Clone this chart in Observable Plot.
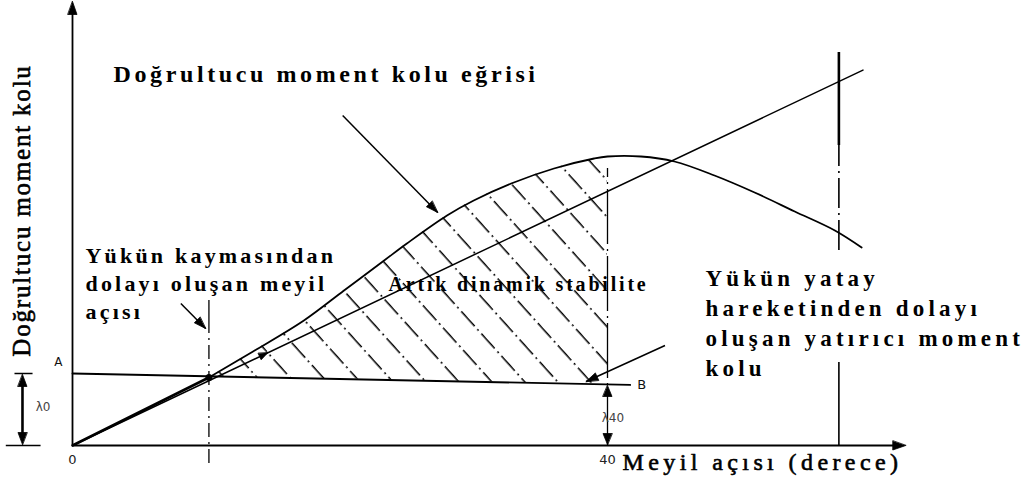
<!DOCTYPE html>
<html>
<head>
<meta charset="utf-8">
<script src="https://cdn.jsdelivr.net/npm/d3@7"></script>
<script src="https://cdn.jsdelivr.net/npm/@observablehq/plot@0.6"></script>
<style>
  body { margin: 0; background: #fff; }
  #chart svg { display: block; background: #fff; }
  .t-title text { letter-spacing: 3.6px; }
  .t-note text { letter-spacing: 3.2px; }
  .t-heel text { letter-spacing: 4.2px; }
  .t-area text { letter-spacing: 2.8px; }
  .t-axis text { letter-spacing: 4.4px; }
  .t-yaxis text { letter-spacing: 1.8px; }
</style>
</head>
<body>
<div id="chart"></div>
<script>
// Righting lever curve: heel angle (degrees) and lever GZ (m)
const gzAngle = [0, 10.2, 13.5, 17.3, 20.3, 23.3, 25, 28, 30, 33, 36, 39, 40, 42.5, 45, 48, 51, 54, 57, 59];
const gzValue = [0, 0.34, 0.47, 0.625, 0.775, 0.925, 1.01, 1.15, 1.225, 1.315, 1.385, 1.435, 1.445, 1.445, 1.42, 1.35, 1.265, 1.17, 1.075, 0.99];

// Grain-shift heeling arm: λ0 at upright, λ40 at 40°
const lambda0 = 0.36;
const lambda40 = 0.305;
const shiftAngle = 10.2;    // heel produced by the cargo shift
const limitAngle = 40;      // residual stability is measured up to 40°
const gmAngle = 57.3;       // one radian
const gmValue = 1.82;       // initial GM, read on the 57.3° ordinate

// Drawn extents of the construction lines
const tangentEnd = 59.1;
const heelLineEnd = 41.7;
const xAxisEnd = 62.3;
const yAxisEnd = 2.22;

// Axis ticks
const tickValues = [0, 40];
const tickLabels = ["0", "40"];

// Texts
const axisLabelX = "Meyil açısı (derece)";
const axisLabelY = "Doğrultucu moment kolu";
const noteCurve = "Doğrultucu moment kolu eğrisi";
const noteShift = "Yükün kaymasından\ndolayı oluşan meyil\naçısı";
const noteArea = "Artık dinamik stabilite";
const noteHeel = "Yükün yatay\nhareketinden dolayı\noluşan yatırıcı moment\nkolu";

// Leader arrows (tail -> tip), in degrees / metres
const leaderTail = [[20.2, 1.65], [8.1, 0.71], [44.3, 0.5]];
const leaderTip  = [[27.3, 1.165], [9.95, 0.585], [38.4, 0.32]];

// ---------------------------------------------------------------
const XR = [72, 607];               // pixel range for 0..40°
const YR = [445, 45];               // pixel range for 0..2 m
const pxPerDeg = (XR[1] - XR[0]) / 40;
const pxPerUnit = (YR[0] - YR[1]) / 2;

const heelArm = a => lambda0 + (lambda40 - lambda0) * a / limitAngle;
const gz = gzAngle.map((a, i) => ({a, v: gzValue[i]}));
const straight = gz.filter(d => d.a <= shiftAngle);
const bent = gz.filter(d => d.a >= shiftAngle);
const shaded = gz.filter(d => d.a >= shiftAngle && d.a <= limitAngle)
  .map(d => ({a: d.a, lo: heelArm(d.a), hi: d.v}));
const tangent = [{a: 0, v: 0}, {a: tangentEnd, v: gmValue * tangentEnd / gmAngle}];
const heelLine = [{a: 0, v: lambda0}, {a: heelLineEnd, v: heelArm(heelLineEnd)}];

// screen heading (deg, clockwise from "up") of a segment given in data units
function heading(x1, y1, x2, y2) {
  const dx = (x2 - x1) * pxPerDeg, dy = -(y2 - y1) * pxPerUnit;
  return Math.atan2(dy, dx) * 180 / Math.PI + 90;
}

// filled arrow head: tip at (x, y), length and half-width in pixels
function headPolygon(id, x, y, angle, len = 12, half = 4) {
  const t = angle * Math.PI / 180;
  const ux = Math.sin(t), uy = -Math.cos(t);
  const nx = -uy, ny = ux;
  const pts = [[0, 0], [-ux * len + nx * half, -uy * len + ny * half], [-ux * len - nx * half, -uy * len - ny * half]];
  return pts.map(([dx, dy]) => ({id, x: x + dx / pxPerDeg, y: y - dy / pxPerUnit}));
}

const leaders = leaderTail.map((t, i) => ({x1: t[0], y1: t[1], x2: leaderTip[i][0], y2: leaderTip[i][1]}));
const heads = [];
leaders.forEach((d, i) => heads.push(...headPolygon("l" + i, d.x2, d.y2, heading(d.x1, d.y1, d.x2, d.y2), 12, 4)));
// small head riding on the tangent line
const tanA = 14.6;
heads.push(...headPolygon("t", tanA, gmValue * tanA / gmAngle, heading(0, 0, gmAngle, gmValue), 9, 3.5));
// axis arrow heads
heads.push(...headPolygon("ay", 0, yAxisEnd, 0, 13, 4.5));
heads.push(...headPolygon("ax", xAxisEnd, 0, 90, 13, 4.5));
// λ40 dimension heads
heads.push(...headPolygon("l40a", limitAngle, lambda40 - 0.005, 0, 11, 4.5));
heads.push(...headPolygon("l40b", limitAngle, 0.005, 180, 11, 4.5));
// λ0 dimension heads, left of the ordinate axis
const dimX = -3.74;
heads.push(...headPolygon("l0a", dimX, lambda0 - 0.005, 0, 12, 4.5));
heads.push(...headPolygon("l0b", dimX, 0.005, 180, 12, 4.5));

const serif = "Liberation Serif";
const sans = "DejaVu Sans";

const chart = Plot.plot({
  width: 1029,
  height: 484,
  x: {domain: [0, 40], range: XR, axis: null},
  y: {domain: [0, 2], range: YR, axis: null},
  marks: [
    // residual dynamic stability (hatched)
    Plot.areaY(shaded, {x: "a", y1: "lo", y2: "hi", fill: "url(#hatch)", curve: "catmull-rom"}),

    // axes
    Plot.ruleX([0], {y1: 0, y2: yAxisEnd - 0.03, stroke: "black", strokeWidth: 1.8}),
    Plot.ruleY([0], {x1: 0, x2: xAxisEnd - 0.5, stroke: "black", strokeWidth: 1.8}),

    // angle ordinates
    Plot.ruleX([shiftAngle], {y1: 0.56, y2: 0.725, stroke: "black", strokeWidth: 1.3}),
    Plot.ruleX([shiftAngle], {y1: -0.09, y2: 0.56, stroke: "black", strokeWidth: 1.3, strokeDasharray: "14 5 2 5"}),
    Plot.ruleX([limitAngle], {y1: 0, y2: 1.385, stroke: "black", strokeWidth: 1.3, strokeDasharray: "55 5 2 5"}),
    Plot.ruleX([gmAngle], {y1: 1.5, y2: 1.965, stroke: "black", strokeWidth: 2.6}),
    Plot.ruleX([gmAngle], {y1: 0.975, y2: 1.5, stroke: "black", strokeWidth: 1.6, strokeDasharray: "30 5 2 5"}),
    Plot.ruleX([gmAngle], {y1: 0, y2: 0.415, stroke: "black", strokeWidth: 1.6}),

    // heeling arm A–B
    Plot.line(heelLine, {x: "a", y: "v", stroke: "black", strokeWidth: 1.8}),

    // initial GM tangent
    Plot.line(tangent, {x: "a", y: "v", stroke: "black", strokeWidth: 1.5}),

    // righting lever curve
    Plot.line(straight, {x: "a", y: "v", stroke: "black", strokeWidth: 2.6}),
    Plot.line(bent, {x: "a", y: "v", stroke: "black", strokeWidth: 1.8, curve: "catmull-rom"}),
    Plot.dot([{a: shiftAngle, v: gzValue[1]}], {x: "a", y: "v", r: 3.5, fill: "black"}),

    // λ0 dimension
    Plot.ruleX([dimX], {y1: 0.03, y2: lambda0 - 0.03, stroke: "black", strokeWidth: 2.6}),
    Plot.ruleY([lambda0], {x1: -4.3, x2: -2.95, stroke: "black", strokeWidth: 1.5}),
    Plot.ruleY([0], {x1: -4.95, x2: -2.35, stroke: "black", strokeWidth: 1.5}),

    // leader lines and arrow heads
    Plot.link(leaders, {x1: "x1", y1: "y1", x2: "x2", y2: "y2", stroke: "black", strokeWidth: 1.5}),
    Plot.line(heads, {x: "x", y: "y", z: "id", fill: "black", stroke: "black", strokeWidth: 0.8, curve: "linear-closed"}),

    // tick labels and point letters
    Plot.text(tickValues, {x: d => d, y: -0.07, text: (d, i) => tickLabels[i], fontFamily: sans, fontSize: 13, fill: "#222"}),
    Plot.text(["A"], {x: -1.05, y: 0.415, fontFamily: sans, fontSize: 12, fill: "#111"}),
    Plot.text(["B"], {x: 42.55, y: 0.305, fontFamily: sans, fontSize: 13, fill: "#111"}),
    Plot.text(["λ0"], {x: -2.2, y: 0.19, fontFamily: sans, fontSize: 12, fill: "#444"}),
    Plot.text(["λ40"], {x: 40.4, y: 0.135, fontFamily: sans, fontSize: 12, fill: "#444"}),

    // notes
    Plot.text([noteCurve], {x: 3.07, y: 1.855, textAnchor: "start", fontFamily: serif, fontWeight: "bold", fontSize: 24, fill: "black", className: "t-title"}),
    Plot.text([noteShift], {x: 0.97, y: 1.013, textAnchor: "start", lineAnchor: "top", lineHeight: 1.27, fontFamily: serif, fontWeight: "bold", fontSize: 22, fill: "black", className: "t-note"}),
    Plot.text([noteArea], {x: 23.63, y: 0.846, textAnchor: "start", lineAnchor: "top", fontFamily: serif, fontWeight: "bold", fontSize: 20, fill: "black", className: "t-area"}),
    Plot.text([noteHeel], {x: 47.33, y: 0.903, textAnchor: "start", lineAnchor: "top", lineHeight: 1.3, fontFamily: serif, fontWeight: "bold", fontSize: 23, fill: "black", className: "t-heel"}),

    // axis titles
    Plot.text([axisLabelX], {x: 41.12, y: -0.085, textAnchor: "start", fontFamily: serif, fontSize: 24, fill: "black", stroke: "black", strokeWidth: 0.6, className: "t-axis"}),
    Plot.text([axisLabelY], {x: -3.74, y: 1.175, rotate: -90, fontFamily: serif, fontSize: 25, fill: "black", stroke: "black", strokeWidth: 0.6, className: "t-yaxis"})
  ]
});

// hatch pattern for the residual stability area
const svg = d3.select(chart);
const pat = svg.insert("defs", ":first-child")
  .append("pattern")
  .attr("id", "hatch")
  .attr("patternUnits", "userSpaceOnUse")
  .attr("width", 24.5)
  .attr("height", 60)
  .attr("patternTransform", "rotate(-42)");
pat.append("line")
  .attr("x1", 12).attr("x2", 12).attr("y1", 0).attr("y2", 60)
  .attr("stroke", "black").attr("stroke-width", 1.5)
  .attr("stroke-dasharray", "20 4 2 4");

document.getElementById("chart").appendChild(chart);
</script>
</body>
</html>
